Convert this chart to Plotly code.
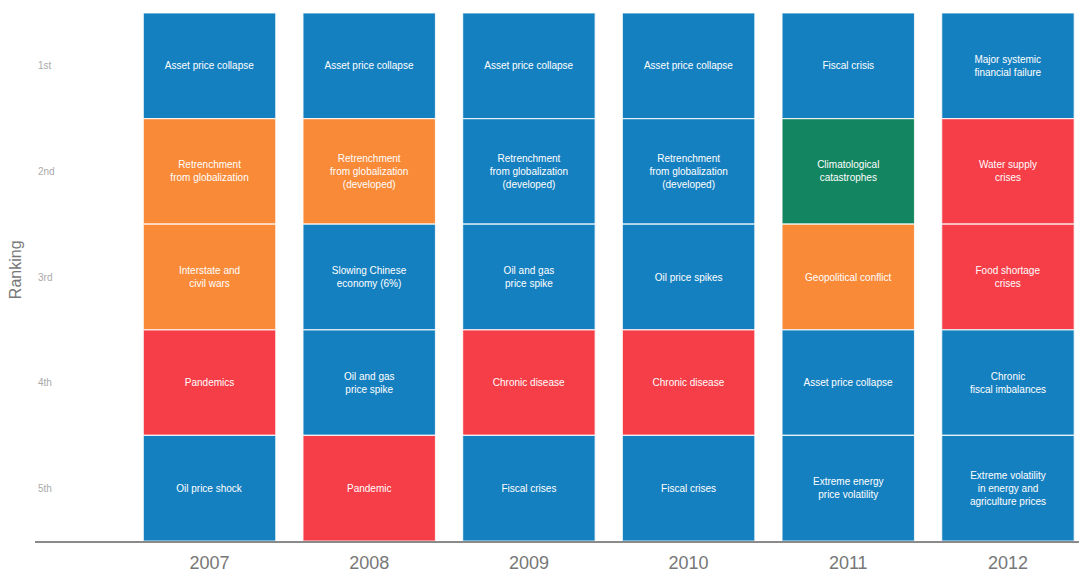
import plotly.graph_objects as go

years = ["2007", "2008", "2009", "2010", "2011", "2012"]
ranks = ["1st", "2nd", "3rd", "4th", "5th"]

# risk labels per rank (rows) for each year (columns)
risks = [
    ["Asset price collapse", "Asset price collapse", "Asset price collapse",
     "Asset price collapse", "Fiscal crisis", "Major systemic<br>financial failure"],
    ["Retrenchment<br>from globalization", "Retrenchment<br>from globalization<br>(developed)",
     "Retrenchment<br>from globalization<br>(developed)", "Retrenchment<br>from globalization<br>(developed)",
     "Climatological<br>catastrophes", "Water supply<br>crises"],
    ["Interstate and<br>civil wars", "Slowing Chinese<br>economy (6%)", "Oil and gas<br>price spike",
     "Oil price spikes", "Geopolitical conflict", "Food shortage<br>crises"],
    ["Pandemics", "Oil and gas<br>price spike", "Chronic disease", "Chronic disease",
     "Asset price collapse", "Chronic<br>fiscal imbalances"],
    ["Oil price shock", "Pandemic", "Fiscal crises", "Fiscal crises",
     "Extreme energy<br>price volatility", "Extreme volatility<br>in energy and<br>agriculture prices"],
]

# risk category per cell
categories = [
    ["Economic", "Economic", "Economic", "Economic", "Economic", "Economic"],
    ["Geopolitical", "Geopolitical", "Economic", "Economic", "Environmental", "Societal"],
    ["Geopolitical", "Economic", "Economic", "Economic", "Geopolitical", "Societal"],
    ["Societal", "Economic", "Societal", "Societal", "Economic", "Economic"],
    ["Economic", "Societal", "Economic", "Economic", "Economic", "Economic"],
]

category_colors = {
    "Economic": "#1580bf",
    "Geopolitical": "#f98a38",
    "Societal": "#f53e48",
    "Environmental": "#138560",
}

x_pos = list(range(len(years)))

fig = go.Figure()
for r, rank in enumerate(ranks):
    fig.add_trace(go.Bar(
        x=x_pos,
        y=[1] * len(years),
        base=[r] * len(years),
        width=0.83,
        text=risks[r],
        textposition="inside",
        insidetextanchor="middle",
        textangle=0,
        textfont=dict(family="Liberation Sans, Arial, sans-serif", size=10, color="white"),
        marker=dict(color=[category_colors[c] for c in categories[r]],
                    line=dict(color="rgba(255,255,255,0.8)", width=1.2)),
        name=rank,
        showlegend=False,
        hoverinfo="skip",
    ))

fig.update_layout(
    width=1079, height=569,
    margin=dict(l=27, r=0, t=5, b=36, autoexpand=False),
    paper_bgcolor="white", plot_bgcolor="white",
    barmode="overlay",
    uniformtext=dict(minsize=10, mode="show"),
    xaxis=dict(
        range=[-1.093, 5.495],
        tickvals=x_pos, ticktext=years,
        tickfont=dict(family="Liberation Sans, Arial, sans-serif", size=18, color="#777777"),
        showgrid=False, zeroline=False,
        showline=True, linecolor="#8a8a8a", linewidth=1.5,
        ticks="", ticklabelstandoff=5, automargin=False,
    ),
    yaxis=dict(
        range=[5, 0],
        tickvals=[r + 0.5 for r in range(len(ranks))], ticktext=ranks,
        ticklabelposition="inside",
        tickfont=dict(family="Liberation Sans, Arial, sans-serif", size=10, color="#aaaaaa"),
        showgrid=False, zeroline=False, showline=False, ticks="", automargin=False,
    ),
    annotations=[dict(
        text="Ranking", xref="paper", yref="paper", x=-0.019, y=0.513,
        textangle=-90, showarrow=False, xanchor="center", yanchor="middle",
        font=dict(family="Liberation Sans, Arial, sans-serif", size=16, color="#777777"),
    )],
)

fig.write_html("out.html")
